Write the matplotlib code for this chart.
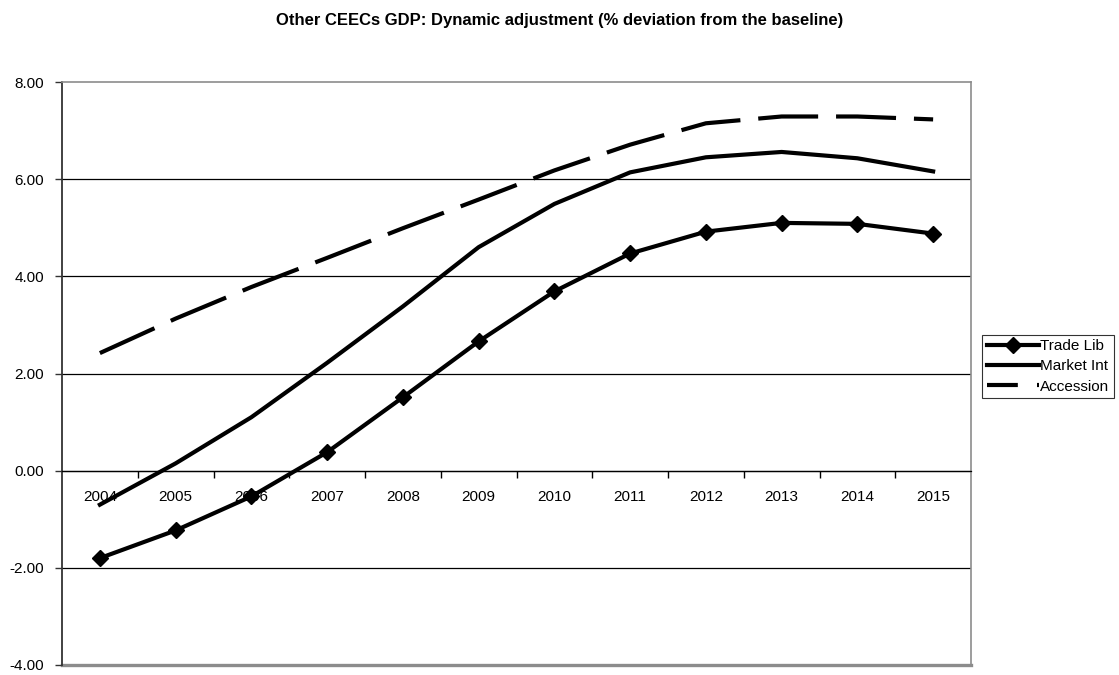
import matplotlib
matplotlib.use("Agg")
import matplotlib.pyplot as plt
from matplotlib.legend_handler import HandlerLine2D

plt.rcParams['font.family'] = ['Liberation Sans', 'DejaVu Sans']

years = ['2004', '2005', '2006', '2007', '2008', '2009', '2010', '2011', '2012', '2013', '2014', '2015']
trade_lib = [-1.80, -1.23, -0.53, 0.38, 1.51, 2.66, 3.69, 4.47, 4.92, 5.10, 5.08, 4.88]
market_int = [-0.70, 0.15, 1.10, 2.22, 3.38, 4.60, 5.49, 6.14, 6.45, 6.56, 6.43, 6.16]
accession = [2.42, 3.13, 3.78, 4.38, 4.99, 5.58, 6.18, 6.71, 7.15, 7.29, 7.29, 7.23]
yticks = [-4, -2, 0, 2, 4, 6, 8]

W, H = 1119, 675
fig = plt.figure(figsize=(W / 100, H / 100), dpi=100)
ax = fig.add_axes([62 / W, 1 - 665 / H, (971 - 62) / W, (665 - 82) / H])

x = list(range(len(years)))
lw = 3.0
ax.plot(x, trade_lib, color='black', lw=lw, marker='D', markersize=8,
        label='Trade Lib', zorder=5)
ax.plot(x, market_int, color='black', lw=lw, label='Market Int', zorder=4)
ax.plot(x, accession, color='black', lw=lw, dashes=(14.4, 4.3),
        dash_capstyle='butt', label='Accession', zorder=4)

ax.set_xlim(-0.5, len(years) - 0.5)
ax.set_ylim(-4, 8)
ax.set_yticks(yticks)
ax.set_yticklabels([f'{v:.2f}' for v in yticks])
ax.tick_params(axis='y', direction='out', length=5, width=1, color='#333333',
               pad=8, labelsize=11)

# gridlines
for v in yticks[1:-1]:
    ax.axhline(v, color='black', lw=0.9, zorder=1)

for s in ['top', 'right']:
    ax.spines[s].set_color('#8c8c8c')
    ax.spines[s].set_linewidth(1.2)
ax.spines['left'].set_color('#333333')
ax.spines['left'].set_linewidth(1.3)
ax.spines['bottom'].set_position(('data', 0))
ax.spines['bottom'].set_color('black')
ax.spines['bottom'].set_linewidth(0.9)
ax.axhline(-4, color='#8c8c8c', lw=2.4, zorder=0, clip_on=False)

ax.set_xticks([i + 0.5 for i in x[:-1]])
ax.set_xticklabels([])
ax.tick_params(axis='x', which='major', direction='out', length=5, width=1,
               color='black')
ax.set_xticks(x, minor=True)
ax.set_xticklabels(years, minor=True)
ax.tick_params(axis='x', which='minor', length=0, pad=14, labelsize=11)

fig.text(0.5, 1 - 20 / H, 'Other CEECs GDP: Dynamic adjustment (% deviation from the baseline)',
         ha='center', va='center', fontsize=12, fontweight='bold')


def _acc_handle(legend_handle, orig):
    legend_handle.update_from(orig)
    legend_handle.set_dashes((7.4, 4.6))


handles, labels = ax.get_legend_handles_labels()
leg = fig.legend(handles, labels, loc='center left',
                 bbox_to_anchor=(982 / W, 1 - 366.5 / H),
                 frameon=True, fontsize=11, handlelength=3.4, handletextpad=0.1,
                 labelspacing=0.4, borderpad=0.3, borderaxespad=0, fancybox=False,
                 handler_map={handles[2]: HandlerLine2D(update_func=_acc_handle)})
leg.get_frame().set_edgecolor('black')
leg.get_frame().set_linewidth(0.8)

fig.savefig('out.png', dpi=100, facecolor='white')
